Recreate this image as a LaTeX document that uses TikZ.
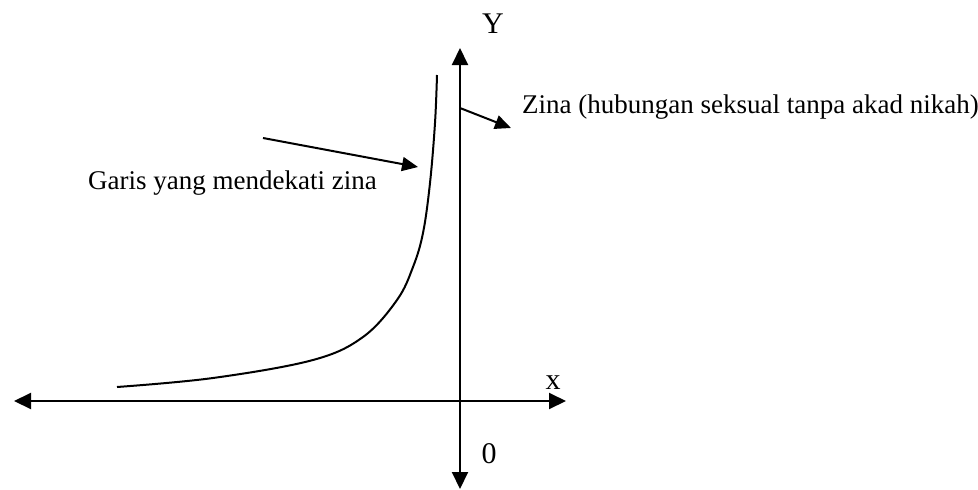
\documentclass[tikz,border=0pt]{standalone}
\usepackage{fontspec}
\setmainfont{Liberation Serif}
\usetikzlibrary{arrows.meta}
\begin{document}
\begin{tikzpicture}[x=1pt,y=-1pt,
  axis/.style={line width=2pt,{Triangle[length=17pt,width=16pt]}-{Triangle[length=17pt,width=16pt]}},
  pointer/.style={line width=2pt,-{Triangle[length=16pt,width=14pt]}},
  curveline/.style={line width=2pt},
  lbl/.style={inner sep=0pt,font=\fontsize{27}{32}\selectfont},
  axlbl/.style={inner sep=0pt,font=\fontsize{30}{35}\selectfont}]
\useasboundingbox (0,0) rectangle (978,490);
% axes
\coordinate (xl) at (14,401);
\coordinate (xr) at (566,401);
\coordinate (yt) at (460,48);
\coordinate (yb) at (460,489);
\draw[axis] (xl) -- (xr);
\draw[axis] (yb) -- (yt);
\node[axlbl] (ylab) at (493,24) {Y};
\node[axlbl,anchor=base] (xlab) at (553,389) {x};
\node[axlbl] (zero) at (489,454) {0};
% curve
\draw[curveline] plot[smooth,tension=0.6] coordinates
  {(117,387) (213,378) (313,360) (363,337) (397,300) (413,267) (423,233) (430,183) (435,123) (437,75)};
% labels and pointers
\node[lbl,anchor=base west] (garis) at (88,189) {Garis yang mendekati zina};
\coordinate (a1s) at (263,138);
\coordinate (a1e) at (418,167);
\draw[pointer] (a1s) -- (a1e);
\coordinate (a2s) at (460,108);
\coordinate (a2e) at (511,128);
\draw[pointer] (a2s) -- (a2e);
\node[lbl,anchor=base west] (zina) at (522,113) {Zina (hubungan seksual tanpa akad nikah)};
\end{tikzpicture}
\end{document}
